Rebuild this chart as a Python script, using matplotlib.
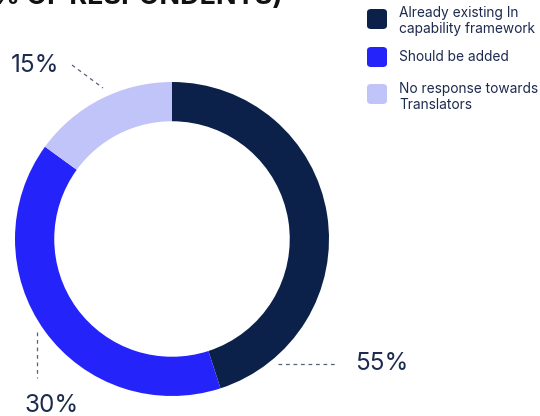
import matplotlib.pyplot as plt
from matplotlib.patches import FancyBboxPatch
from matplotlib.lines import Line2D

# slices as drawn in the ring, and the percentages printed next to them
categories = ["Already existing In\ncapability framework", "Should be added",
              "No response towards\nTranslators"]
shares = [45, 40, 15]
labels = ["55%", "30%", "15%"]
colors = ["#0B2149", "#2424FA", "#C1C4F9"]

W, H = 540, 416
txt = "#1D2B4F"
plt.rcParams['font.family'] = ['Inter', 'DejaVu Sans']

fig = plt.figure(figsize=(W / 100, H / 100), dpi=100)


def fx(p):
    return p / W


def fy(p):
    return 1 - p / H


# donut
cx, cy, r = 172, 239, 157
ax = fig.add_axes([fx(cx - r), fy(cy + r), 2 * r / W, 2 * r / H])
ax.pie(shares, colors=colors, startangle=90, counterclock=False, radius=1,
       wedgeprops=dict(width=0.25, edgecolor='none'))
ax.set_xlim(-1, 1)
ax.set_ylim(-1, 1)
ax.axis('off')

# cut-off title at the top (only its lower edge shows)
fig.text(fx(283), fy(4.5), "(% OF RESPONDENTS)", ha='right', va='baseline',
         fontsize=19.5, fontweight='bold', color="#111111")

# percentage labels with dashed leaders
label_pos = [(382, 363), (52, 406), (35, 66)]
leaders = [((278, 338), (364, 364)), ((37, 37), (332, 378)), ((72, 103), (65, 88))]
for lab, (lx, ly), (xs, ys) in zip(labels, label_pos, leaders):
    fig.text(fx(lx), fy(ly), lab, ha='center', va='center', fontsize=17.5, color=txt)
    fig.add_artist(Line2D([fx(x) for x in xs], [fy(y) for y in ys],
                          transform=fig.transFigure, color="#55607a",
                          linestyle=(0, (3, 3)), linewidth=0.9))

# legend
rows = [19, 57, 94]
text_rows = [21, 57, 97]
for cat, col, yc, yt in zip(categories, colors, rows, text_rows):
    box = FancyBboxPatch((fx(367), fy(yc + 10)), 20 / W, 20 / H,
                         boxstyle="round,pad=0,rounding_size=0.008",
                         transform=fig.transFigure, facecolor=col, edgecolor='none')
    fig.add_artist(box)
    fig.text(fx(399), fy(yt), cat, ha='left', va='center', fontsize=9.9,
             color=txt, linespacing=1.25)

fig.savefig("out.png", dpi=100)
